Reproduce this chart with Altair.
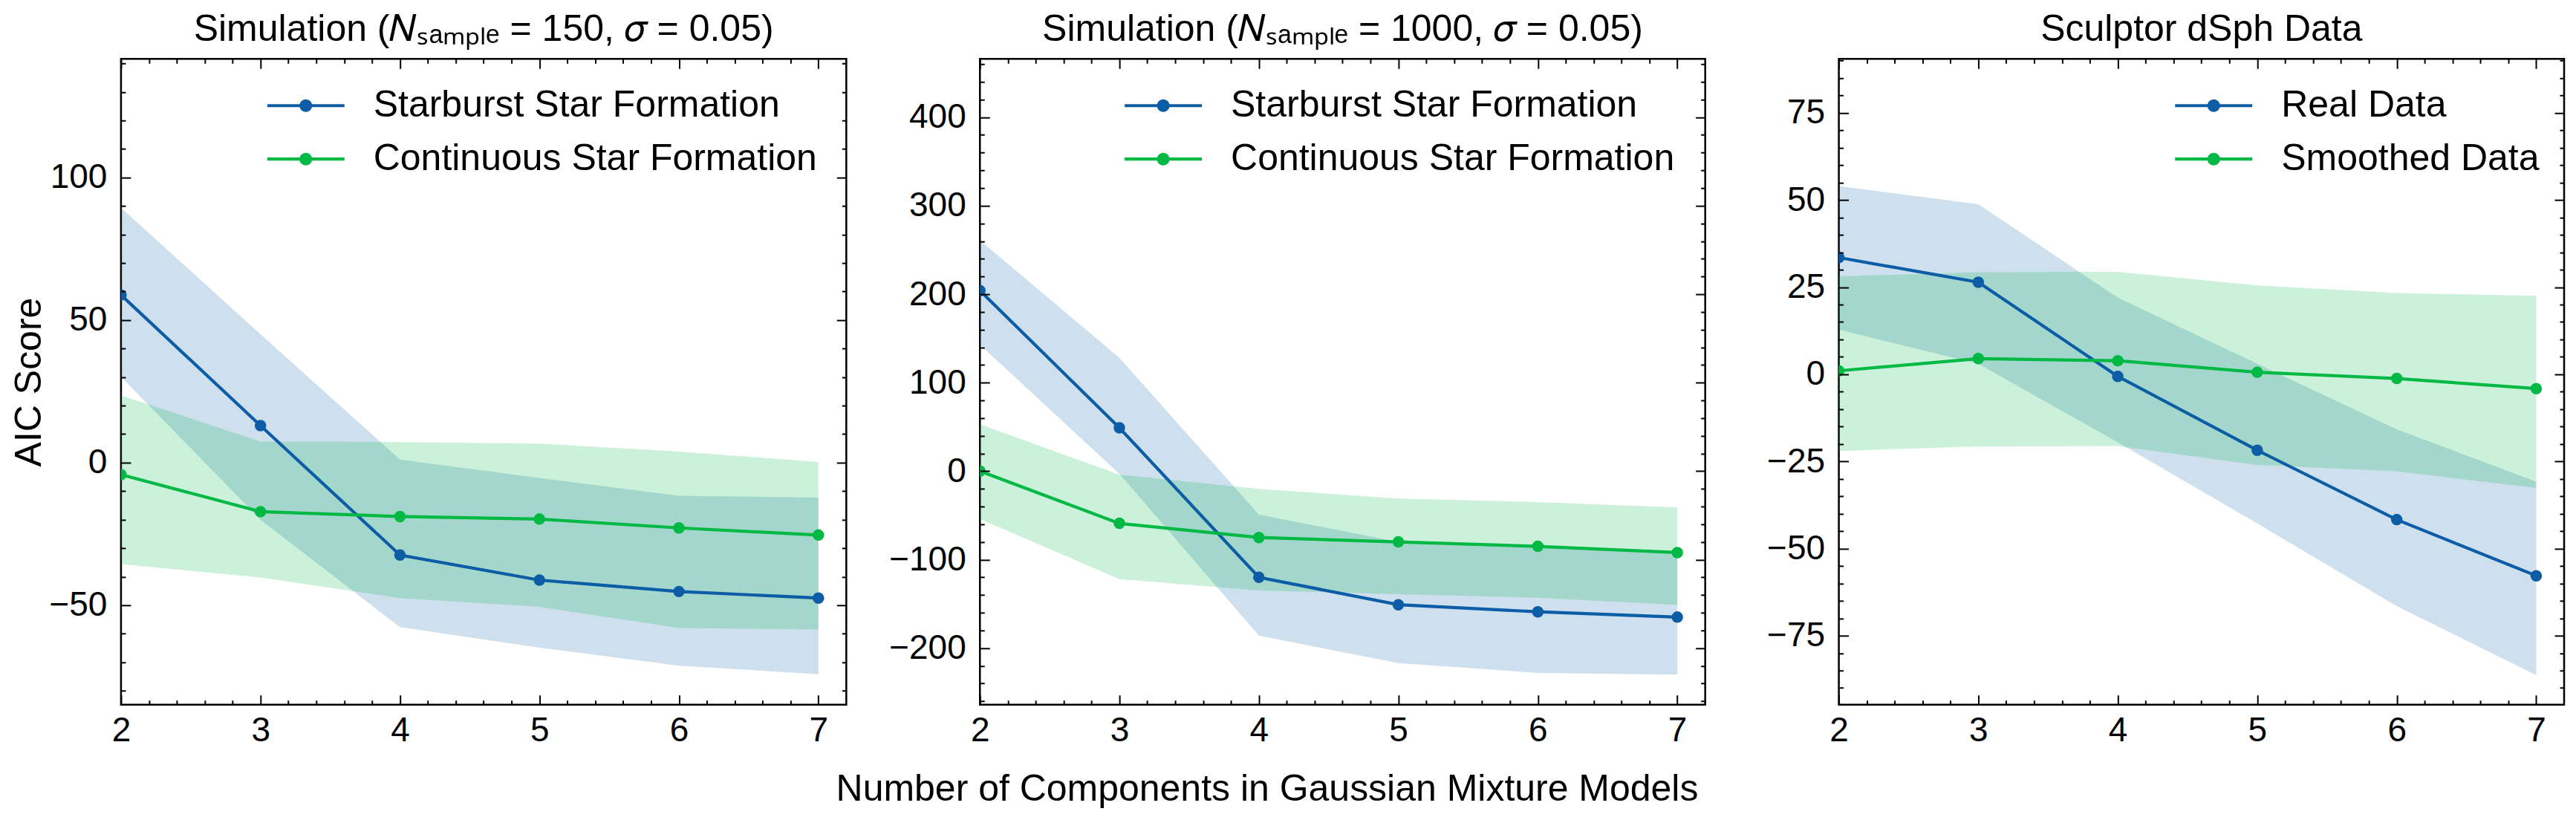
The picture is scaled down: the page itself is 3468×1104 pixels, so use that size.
import math
import altair as alt
import pandas as pd

# ---------------- data ----------------
K = [2, 3, 4, 5, 6, 7]

P1_TITLE = "Simulation (𝑁ₛₐₘₚₗₑ = 150, 𝜎 = 0.05)"
P1_NAMES = ["Starburst Star Formation", "Continuous Star Formation"]
P1_A_MEAN = [58.8, 13.0, -32.4, -41.2, -45.2, -47.5]
P1_A_LO = [30.1, -20.0, -57.7, -64.9, -71.2, -74.2]
P1_A_HI = [89.4, 45.0, 1.1, -5.4, -11.6, -12.3]
P1_B_MEAN = [-4.2, -17.2, -18.9, -19.8, -22.9, -25.4]
P1_B_LO = [-35.6, -40.3, -47.5, -50.6, -58.0, -58.5]
P1_B_HI = [23.6, 7.4, 7.2, 6.7, 3.9, 0.2]
P1_YDOMAIN = [-84.9, 141.6]
P1_YTICKS = [-50, 0, 50, 100]

P2_TITLE = "Simulation (𝑁ₛₐₘₚₗₑ = 1000, 𝜎 = 0.05)"
P2_NAMES = ["Starburst Star Formation", "Continuous Star Formation"]
P2_A_MEAN = [204, 49, -120, -151, -159, -165]
P2_A_LO = [143, -3, -186, -217, -228, -230]
P2_A_HI = [261, 128, -49, -80, -85, -91]
P2_B_MEAN = [0, -59, -75, -80, -85, -92]
P2_B_LO = [-54, -122, -135, -139, -143, -151]
P2_B_HI = [53, -4, -20, -31, -35, -41]
P2_YDOMAIN = [-264, 466]
P2_YTICKS = [-200, -100, 0, 100, 200, 300, 400]

P3_TITLE = "Sculptor dSph Data"
P3_NAMES = ["Real Data", "Smoothed Data"]
P3_A_MEAN = [33.5, 26.4, -0.6, -21.8, -41.7, -57.8]
P3_A_LO = [12.8, 3.0, -19.5, -42.8, -66.5, -86.3]
P3_A_HI = [54.0, 48.8, 22.0, 3.0, -15.8, -30.8]
P3_B_MEAN = [1.0, 4.5, 3.9, 0.6, -1.2, -4.1]
P3_B_LO = [-22.0, -20.7, -20.6, -26.0, -27.8, -32.6]
P3_B_HI = [28.1, 29.3, 29.4, 25.5, 23.3, 22.5]
P3_YDOMAIN = [-94.8, 90.5]
P3_YTICKS = [-75, -50, -25, 0, 25, 50, 75]

X_LABEL = "Number of Components in Gaussian Mixture Models"
Y_LABEL = "AIC Score"

# ---------------- style ----------------
BLUE = "#0C5DA5"
GREEN = "#00B945"
FONT = "Liberation Sans"
W, H = 977, 870
MAJOR, MINOR = 13, 6
XDOMAIN = [2, 7.2]
X_MINOR = [round(2 + 0.2 * i, 1) for i in range(1, 26) if i % 5]
# legend glyph: line segment with a dot (units of sqrt(size)/2 = 25 px)
LEG_PATH = ("M-3.16,-0.084L1,-0.084L1,0.084L-3.16,0.084Z "
            "M-0.74,0A0.34,0.34,0,1,1,-1.42,0A0.34,0.34,0,1,1,-0.74,0Z")


def minor_ticks(dom, step, major_step):
    out = []
    v = math.ceil(dom[0] / step) * step
    while v <= dom[1]:
        if v % major_step != 0:
            out.append(v)
        v += step
    return out


def frame(df_names, a_mean, a_lo, a_hi, b_mean, b_lo, b_hi):
    rows = []
    for name, m, lo, hi in ((df_names[0], a_mean, a_lo, a_hi),
                            (df_names[1], b_mean, b_lo, b_hi)):
        for k, mv, lv, hv in zip(K, m, lo, hi):
            rows.append({"k": k, "series": name, "mean": mv, "lo": lv, "hi": hv})
    return pd.DataFrame(rows)


def axis(orient, values, size, labels=False, pad=0, title=None):
    kw = dict(orient=orient, values=values, offset=-size, tickSize=size,
              tickWidth=2, tickColor="black", domain=False, grid=False,
              labels=labels, zindex=2)
    if labels:
        kw.update(labelFontSize=46, labelFont=FONT, labelColor="black",
                  labelPadding=pad, labelFlush=False, labelOverlap=False,
                  format="d")
    if title:
        kw.update(title=title, titleFontSize=50, titleFont=FONT,
                  titleFontWeight="normal", titleColor="black", titlePadding=1)
    return alt.Axis(**kw)


def panel(title, names, data, ydom, yticks, ystep, ymajor_step, legend_x, ytitle=None):
    df = frame(names, *data)
    xs = alt.Scale(domain=XDOMAIN, nice=False, zero=False)
    ys = alt.Scale(domain=ydom, nice=False, zero=False)
    ymin = minor_ticks(ydom, ystep, ymajor_step)
    cscale = alt.Scale(domain=names, range=[BLUE, GREEN])
    # same mapping, listed in the other order (keeps these guide-less scales apart)
    cscale_rev = alt.Scale(domain=names[::-1], range=[GREEN, BLUE])

    band = alt.Chart(df).mark_area(fillOpacity=0.2, opacity=1, strokeWidth=0, clip=True).encode(
        x=alt.X("k:Q", scale=xs, title=None, axis=axis("bottom", K, MAJOR, True, 13)),
        y=alt.Y("lo:Q", scale=ys, axis=axis("left", yticks, MAJOR, True, 19, ytitle),
                **({} if ytitle else {"title": None})),
        y2="hi:Q",
        fill=alt.Fill("series:N", scale=cscale_rev, legend=None),
    )
    line = alt.Chart(df).mark_line(strokeWidth=4.2, clip=True).encode(
        x=alt.X("k:Q", scale=xs, title=None, axis=axis("bottom", X_MINOR, MINOR)),
        y=alt.Y("mean:Q", scale=ys, title=None, axis=axis("left", ymin, MINOR)),
        stroke=alt.Stroke("series:N", scale=cscale_rev, legend=None),
    )
    pts = alt.Chart(df).mark_point(filled=True, size=240, opacity=1, clip=True).encode(
        x=alt.X("k:Q", scale=xs, title=None, axis=axis("top", K, MAJOR)),
        y=alt.Y("mean:Q", scale=ys, title=None, axis=axis("right", yticks, MAJOR)),
        color=alt.Color("series:N", scale=cscale, legend=alt.Legend(
            title=None, orient="none", legendX=legend_x, legendY=38, padding=0,
            direction="vertical", symbolType=LEG_PATH, symbolSize=2500,
            symbolStrokeWidth=0, symbolOpacity=1, labelFontSize=50,
            labelFont=FONT, labelColor="black", labelOffset=39,
            labelLimit=3000, rowPadding=22)),
    )
    ghost = alt.Chart(df).mark_point(opacity=0).encode(
        x=alt.X("k:Q", scale=xs, title=None, axis=axis("top", X_MINOR, MINOR)),
        y=alt.Y("mean:Q", scale=ys, title=None, axis=axis("right", ymin, MINOR)),
    )
    return alt.layer(band, line, pts, ghost).resolve_axis(
        x="independent", y="independent"
    ).properties(
        width=W, height=H,
        title=alt.TitleParams(title, fontSize=50, font=FONT, fontWeight="normal",
                              color="black", offset=13, anchor="middle", frame="group"),
    )


p1 = panel(P1_TITLE, P1_NAMES,
           (P1_A_MEAN, P1_A_LO, P1_A_HI, P1_B_MEAN, P1_B_LO, P1_B_HI),
           P1_YDOMAIN, P1_YTICKS, 10, 50, 251, Y_LABEL)
p2 = panel(P2_TITLE, P2_NAMES,
           (P2_A_MEAN, P2_A_LO, P2_A_HI, P2_B_MEAN, P2_B_LO, P2_B_HI),
           P2_YDOMAIN, P2_YTICKS, 20, 100, 249)
p3 = panel(P3_TITLE, P3_NAMES,
           (P3_A_MEAN, P3_A_LO, P3_A_HI, P3_B_MEAN, P3_B_LO, P3_B_HI),
           P3_YDOMAIN, P3_YTICKS, 5, 25, 507)

chart = alt.hconcat(
    p1, p2, p3, spacing=180, bounds="flush",
    title=alt.TitleParams(X_LABEL, orient="bottom", anchor="middle", fontSize=50,
                          font=FONT, fontWeight="normal", color="black", offset=30,
                          dx=-28),
).resolve_scale(
    x="independent", y="independent", color="independent",
    fill="independent", stroke="independent",
).resolve_legend(color="independent").properties(
    padding={"left": 5, "top": 5, "right": 5, "bottom": 5}
).configure(font=FONT).configure_view(stroke="black", strokeWidth=2.5)

chart.save("out.html", embed_options={"renderer": "svg", "actions": False})
